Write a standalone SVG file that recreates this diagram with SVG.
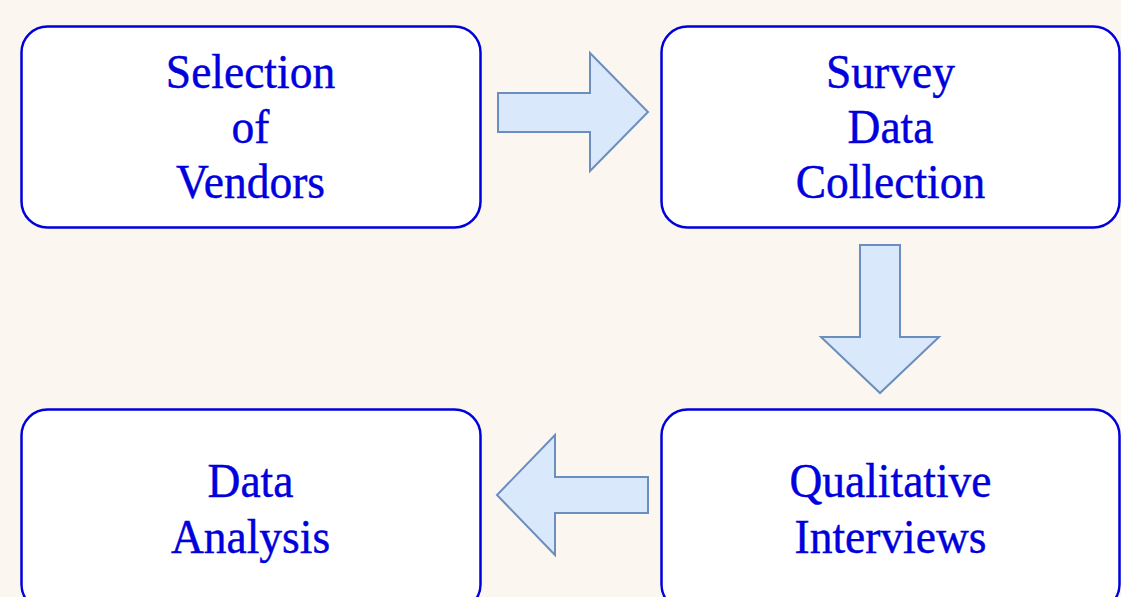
<svg xmlns="http://www.w3.org/2000/svg" width="1121" height="597" viewBox="0 0 1121 597">
  <style>
    .box { fill: #ffffff; stroke: #0000dd; stroke-width: 2.5; }
    .lbl { font-family: "Liberation Serif", "Times New Roman", "DejaVu Serif", serif; font-size: 45.5px; fill: #0000dd; stroke: #0000dd; stroke-width: 0.4; text-anchor: middle; }
    .arrow { fill: #dae8fc; stroke: #6c8ebf; stroke-width: 2; stroke-linejoin: miter; }
  </style>
  <rect width="1121" height="597" fill="#fbf7f0"/>
  <g id="connectors">
    <polygon class="arrow" points="498,93 590,93 590,53 648,112 590,171 590,132 498,132"/>
    <polygon class="arrow" points="860,245 900,245 900,337 939,337 880,393 821,337 860,337"/>
    <polygon class="arrow" points="648,477 555,477 555,435 497,495 555,555 555,513 648,513"/>
  </g>
  <g id="node-selection">
    <rect class="box" x="21.5" y="26.5" width="459" height="201" rx="26" ry="26"/>
    <text class="lbl" transform="translate(250.5 88) scale(1 1.05)"><tspan x="0" y="0">Selection</tspan><tspan x="0" y="52.5">of</tspan><tspan x="0" y="105">Vendors</tspan></text>
  </g>
  <g id="node-survey">
    <rect class="box" x="661.5" y="26.5" width="458" height="201" rx="26" ry="26"/>
    <text class="lbl" transform="translate(890.5 88) scale(1 1.05)"><tspan x="0" y="0">Survey</tspan><tspan x="0" y="52.5">Data</tspan><tspan x="0" y="105">Collection</tspan></text>
  </g>
  <g id="node-analysis">
    <rect class="box" x="21.5" y="409.5" width="459" height="201" rx="26" ry="26"/>
    <text class="lbl" transform="translate(250.5 497) scale(1 1.05)"><tspan x="0" y="0">Data</tspan><tspan x="0" y="53.5">Analysis</tspan></text>
  </g>
  <g id="node-interviews">
    <rect class="box" x="661.5" y="409.5" width="458" height="201" rx="26" ry="26"/>
    <text class="lbl" transform="translate(890.5 497) scale(1 1.05)"><tspan x="0" y="0">Qualitative</tspan><tspan x="0" y="53.5">Interviews</tspan></text>
  </g>
</svg>
